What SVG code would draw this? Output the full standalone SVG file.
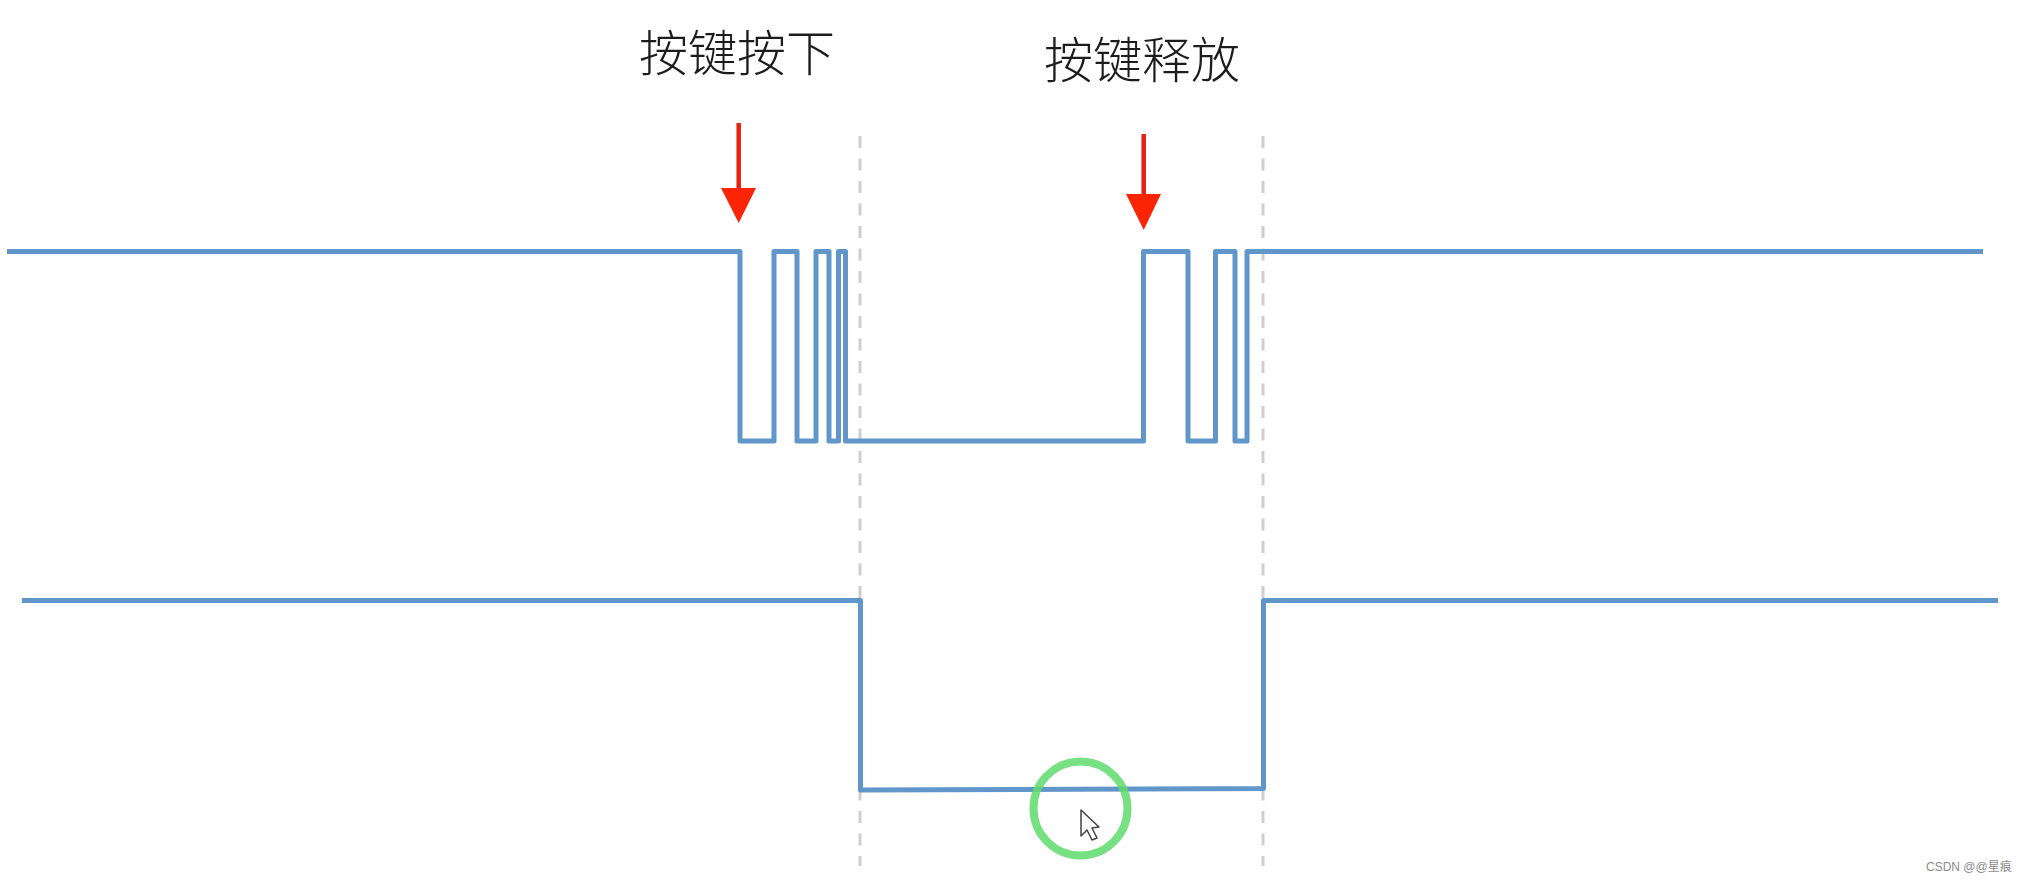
<svg xmlns="http://www.w3.org/2000/svg" width="2026" height="882" viewBox="0 0 2026 882">
<style>
.sig{fill:none;stroke:#6196ca;stroke-width:5;stroke-linejoin:round}
.dash{fill:none;stroke:#cfcfcf;stroke-width:3;stroke-dasharray:12 10.5}
.red{fill:none;stroke:#e3230f;stroke-width:4.500}
.head{fill:#fb2405}
.lbl{font-family:"Noto Sans CJK SC",sans-serif;font-size:49px;font-weight:300;fill:#1c1c1c}
.wm{font-family:"Liberation Sans","Noto Sans CJK SC",sans-serif;font-size:12px;fill:#8c8c8c}
</style>
<rect width="2026" height="882" fill="#ffffff"/>
<g id="guides">
<path class="dash" d="M860 136V866"/>
<path class="dash" d="M1263 136V866"/>
</g>
<g id="connectors">
<path id="signal-raw" class="sig" d="M7 251.500H740V441H774V251.500H797V441H816V251.500H829V441H838.500V251.500H845.500V441H1143.500V251.500H1188V441H1215.500V251.500H1235V441H1247V251.500H1983"/>
<path id="signal-clean" class="sig" d="M22 600.500H860.500V790L1263.500 788.500V600.500H1998"/>
<g id="arrow-press"><path class="red" d="M738.700 123V195"/><path class="head" d="M721 188H756L738.700 223Z"/></g>
<g id="arrow-release"><path class="red" d="M1143.700 134V200"/><path class="head" d="M1126 194H1161L1143.700 230Z"/></g>
</g>
<g id="label-press"><text class="lbl" x="639" y="71">按键按下</text></g>
<g id="label-release"><text class="lbl" x="1044" y="78">按键释放</text></g>
<g id="cursor-highlight">
<circle cx="1080.500" cy="808.500" r="47" fill="none" stroke="#5edb6c" stroke-width="8" stroke-opacity="0.85"/>
<path d="M1081 810V836L1087 830L1092 840L1097 838L1092 828L1099 827Z" fill="#ffffff" stroke="#444444" stroke-width="1.500" stroke-linejoin="round"/>
</g>
<g id="watermark"><text class="wm" x="1926" y="871">CSDN @@星痕</text></g>
</svg>
